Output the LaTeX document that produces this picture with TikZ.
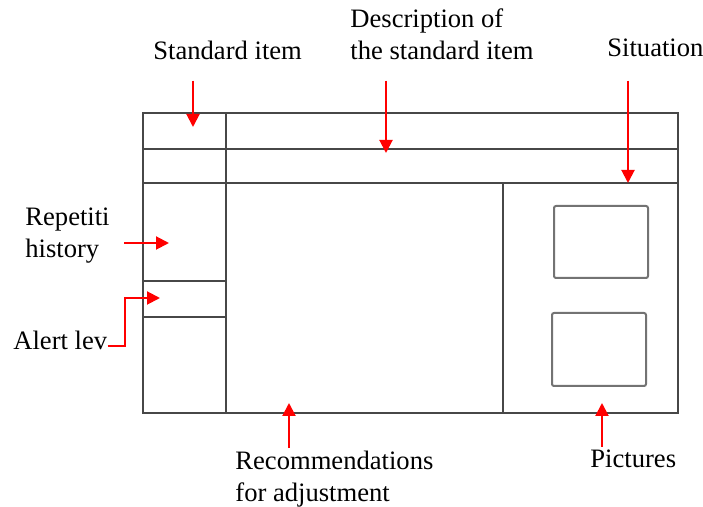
\documentclass[tikz,border=0pt]{standalone}
\usepackage{fontspec}
\setmainfont{Liberation Serif}
\usetikzlibrary{arrows.meta}

\tikzset{
	frame/.style={black!72, line width=1pt},
	photo/.style={black!55, line width=1pt, rounded corners=1pt},
	pointer/.style={red, line width=1pt, -{Triangle[width=6.5pt, length=6.5pt]}},
	label/.style={anchor=base west, align=left, inner sep=0pt}
}

\begin{document}
\begin{tikzpicture}[x=0.5pt, y=-0.5pt, every node/.style={font=\fontsize{13.3}{16}\selectfont}]
	\useasboundingbox (0,0) rectangle (703,507);
	% form layout
	\draw[frame] (143,113) rectangle (678,413);
	\draw[frame] (143,149) -- (678,149);
	\draw[frame] (143,183) -- (678,183);
	\draw[frame] (226,113) -- (226,413);
	\draw[frame] (503,183) -- (503,413);
	\foreach \y in {281,317} {\draw[frame] (143,\y) -- (226,\y);}
	\draw[photo] (554,206) rectangle (648,278);
	\draw[photo] (552,313) rectangle (646,386);
	% labels (base of a two-line label is its last line)
	\node[label] (std) at (153,60) {Standard item};
	\node[label] (dsc) at (350,60) {Description of\\the standard item};
	\node[label] (sit) at (607,57) {Situation};
	\node[label] (rep) at (25,258) {Repetiti\\history};
	\node[label] (alr) at (13,350) {Alert lev};
	\node[label] (rec) at (235,502) {Recommendations\\for adjustment};
	\node[label] (pic) at (590,468) {Pictures};
	% arrow tips
	\coordinate (std-tip) at (193,127);
	\coordinate (dsc-tip) at (386,153);
	\coordinate (sit-tip) at (628,183);
	\coordinate (rep-tip) at (169,243);
	\coordinate (alr-tip) at (160,298);
	\coordinate (rec-tip) at (289,403);
	\coordinate (pic-tip) at (602,403);
	\draw[pointer] ([yshift=-10pt]std.south -| std-tip) -- (std-tip);
	\draw[pointer] ([yshift=-10pt]dsc.south -| dsc-tip) -- (dsc-tip);
	\draw[pointer] ([yshift=-11.5pt]sit.south -| sit-tip) -- (sit-tip);
	\draw[pointer] ([xshift=7pt]rep.east |- rep-tip) -- (rep-tip);
	\draw[pointer] ([yshift=-2.5pt]alr.east) -- ++(17,0) |- (alr-tip);
	\draw[pointer] ([yshift=1.5pt]rec.north -| rec-tip) -- (rec-tip);
	\draw[pointer] ([yshift=1.5pt]pic.north -| pic-tip) -- (pic-tip);
\end{tikzpicture}
\end{document}
